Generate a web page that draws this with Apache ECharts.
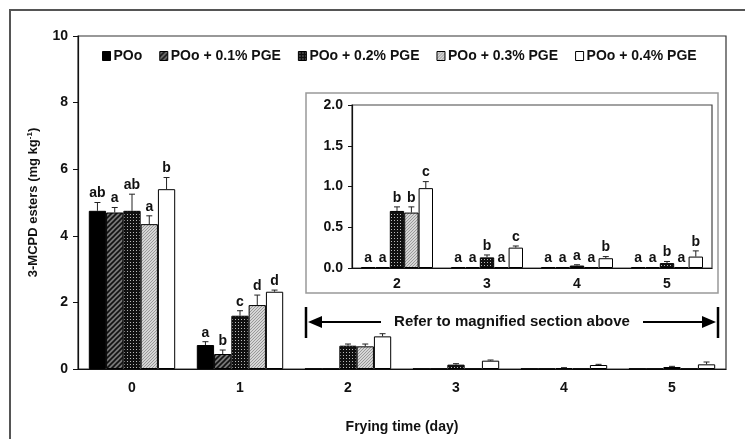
<!DOCTYPE html>
<html><head><meta charset="utf-8">
<script src="https://cdn.jsdelivr.net/npm/echarts@6/dist/echarts.min.js"></script>
<style>html,body{margin:0;padding:0;background:#fff}#c{width:745px;height:439px}</style>
</head><body><div id="c"></div>
<script>
const days = ['0','1','2','3','4','5'];
const seriesNames = ['POo','POo + 0.1% PGE','POo + 0.2% PGE','POo + 0.3% PGE','POo + 0.4% PGE'];
const vPOo  = [4.75, 0.72, 0.01, 0.01, 0.01, 0.01];
const vP01  = [4.70, 0.45, 0.01, 0.01, 0.01, 0.01];
const vP02  = [4.75, 1.60, 0.70, 0.13, 0.03, 0.06];
const vP03  = [4.35, 1.92, 0.68, 0.01, 0.01, 0.01];
const vP04  = [5.40, 2.32, 0.98, 0.25, 0.12, 0.14];
const ePOo  = [0.25, 0.10, 0, 0, 0, 0];
const eP01  = [0.15, 0.12, 0, 0, 0, 0];
const eP02  = [0.50, 0.15, 0.05, 0.03, 0.01, 0.02];
const eP03  = [0.25, 0.30, 0.07, 0, 0, 0];
const eP04  = [0.35, 0.05, 0.08, 0.02, 0.02, 0.07];
const lPOo  = ['ab','a','a','a','a','a'];
const lP01  = ['a','b','a','a','a','a'];
const lP02  = ['ab','c','b','b','a','b'];
const lP03  = ['a','d','b','a','a','a'];
const lP04  = ['b','d','c','c','b','b'];
const yTicksMain = [0,2,4,6,8,10];
const yTicksInset = [0,0.5,1.0,1.5,2.0];
const insetFrom = 2;

const values = [vPOo,vP01,vP02,vP03,vP04];
const errs = [ePOo,eP01,eP02,eP03,eP04];
const letters = [lPOo,lP01,lP02,lP03,lP04];

function pat(w,h,draw){const c=document.createElement('canvas');c.width=w;c.height=h;const g=c.getContext('2d');draw(g);return {image:c,repeat:'repeat'};}
const fills = [
  '#000',
  pat(5,5,g=>{g.fillStyle='#777';g.fillRect(0,0,5,5);g.strokeStyle='#111';g.lineWidth=1.6;g.beginPath();g.moveTo(-1,6);g.lineTo(6,-1);g.moveTo(-1,1);g.lineTo(1,-1);g.moveTo(4,6);g.lineTo(6,4);g.stroke();}),
  pat(3,3,g=>{g.fillStyle='#111';g.fillRect(0,0,3,3);g.fillStyle='#bbb';g.fillRect(1,1,1,1);}),
  pat(3,3,g=>{g.fillStyle='#d6d6d6';g.fillRect(0,0,3,3);g.fillStyle='#999';g.fillRect(0,0,1,1);g.fillRect(2,1,1,1);g.fillRect(1,2,1,1);}),
  '#fff'
];

const FONT = '"Liberation Sans", Arial, sans-serif';
const GAP = 0.2;

function errSeries(k, xIdx, yIdx, offset, showLetter){
  const vals = values[k].slice(offset), es = errs[k].slice(offset), ls = letters[k].slice(offset);
  return {
    type:'custom', xAxisIndex:xIdx, yAxisIndex:yIdx, z:10, silent:true,
    data: vals.map((v,i)=>[i, v, es[i]]),
    renderItem(params, api){
      const ci = api.value(0), v = api.value(1), e = api.value(2);
      const band = api.size([1,0])[0];
      const barW = band*(1-GAP)/5;
      const xc = api.coord([ci,0])[0] - band*(1-GAP)/2 + (k+0.5)*barW;
      const yT = api.coord([ci,v])[1], yE = api.coord([ci,v+e])[1];
      const ch = [];
      if (e > 0) {
        ch.push({type:'line',shape:{x1:xc,y1:yT,x2:xc,y2:yE},style:{stroke:'#222',lineWidth:1}});
        ch.push({type:'line',shape:{x1:xc-3,y1:yE,x2:xc+3,y2:yE},style:{stroke:'#222',lineWidth:1}});
      }
      if (showLetter(ci)) {
        ch.push({type:'text',style:{text:ls[params.dataIndex],x:xc,y:yE-2,textAlign:'center',textVerticalAlign:'bottom',font:'bold 14px '+FONT,fill:'#111'}});
      }
      return {type:'group',children:ch};
    }
  };
}

const series = [];
for (let k=0;k<5;k++){
  series.push({name:seriesNames[k],type:'bar',xAxisIndex:0,yAxisIndex:0,barGap:'0%',barCategoryGap:(GAP*100)+'%',
    data:values[k],itemStyle:{color:fills[k],borderColor:'#000',borderWidth:1}});
}
for (let k=0;k<5;k++){
  series.push({name:seriesNames[k]+' inset',type:'bar',xAxisIndex:1,yAxisIndex:1,barGap:'0%',barCategoryGap:(GAP*100)+'%',
    data:values[k].slice(insetFrom),itemStyle:{color:fills[k],borderColor:'#000',borderWidth:1}});
}
for (let k=0;k<5;k++) series.push(errSeries(k,0,0,0,ci=>ci<insetFrom));
for (let k=0;k<5;k++) series.push(errSeries(k,1,1,insetFrom,ci=>true));

const axisLbl = {color:'#111',fontWeight:'bold',fontSize:14,fontFamily:FONT};
const chart = echarts.init(document.getElementById('c'),null,{renderer:'canvas'});
chart.setOption({
  animation:false,
  backgroundColor:'#fff',
  textStyle:{fontFamily:FONT},
  legend:{data:seriesNames,left:97,top:44,icon:'rect',itemWidth:8,itemHeight:9,itemGap:17,
    textStyle:{color:'#111',fontWeight:'bold',fontSize:14,fontFamily:FONT,padding:[0,0,0,-2]},
    itemStyle:{borderColor:'#000',borderWidth:1}},
  grid:[
    {left:78,right:19,top:36,bottom:66,show:true,borderColor:'#333',borderWidth:1.2,backgroundColor:'transparent'},
    {left:352,right:33,top:105,bottom:171,show:true,borderColor:'#444',borderWidth:1.2,backgroundColor:'transparent'}
  ],
  xAxis:[
    {type:'category',gridIndex:0,data:days,name:'Frying time (day)',nameLocation:'middle',nameGap:51,
      nameTextStyle:{color:'#111',fontWeight:'bold',fontSize:14,fontFamily:FONT},
      axisLine:{lineStyle:{color:'#111',width:1.2}},axisTick:{alignWithLabel:true,length:4,lineStyle:{color:'#111'}},
      axisLabel:Object.assign({margin:12},axisLbl)},
    {type:'category',gridIndex:1,data:days.slice(insetFrom),
      axisLine:{lineStyle:{color:'#111',width:1.2}},axisTick:{alignWithLabel:true,length:3,lineStyle:{color:'#111'}},
      axisLabel:Object.assign({margin:9},axisLbl)}
  ],
  yAxis:[
    {type:'value',gridIndex:0,min:yTicksMain[0],max:yTicksMain[yTicksMain.length-1],interval:2,
      name:'3-MCPD esters (mg kg{sup|-1})',nameLocation:'middle',nameGap:38,nameRotate:90,
      nameTextStyle:{color:'#111',fontWeight:'bold',fontSize:13,fontFamily:FONT,rich:{sup:{fontSize:8,verticalAlign:'top',fontWeight:'bold',color:'#111',padding:[0,0,6,0]}}},
      axisLine:{show:true,lineStyle:{color:'#111',width:1.2}},axisTick:{show:true,length:5,lineStyle:{color:'#111'}},
      splitLine:{show:false},axisLabel:Object.assign({margin:10},axisLbl)},
    {type:'value',gridIndex:1,min:yTicksInset[0],max:yTicksInset[yTicksInset.length-1],interval:0.5,
      axisLine:{show:true,lineStyle:{color:'#111',width:1.2}},axisTick:{show:true,length:4,lineStyle:{color:'#111'}},
      splitLine:{show:false},axisLabel:Object.assign({margin:9,formatter:v=>v.toFixed(1)},axisLbl)}
  ],
  graphic:[
    {type:'rect',z:-10,silent:true,shape:{x:10,y:10,width:800,height:500},style:{fill:'none',stroke:'#555',lineWidth:2}},
    {type:'rect',z:-10,silent:true,shape:{x:306,y:93,width:412,height:200},style:{fill:'none',stroke:'#999',lineWidth:1.5}},
    {type:'line',z:5,shape:{x1:306,y1:307,x2:306,y2:338},style:{stroke:'#000',lineWidth:2.5}},
    {type:'line',z:5,shape:{x1:718,y1:307,x2:718,y2:338},style:{stroke:'#000',lineWidth:2.5}},
    {type:'line',z:5,shape:{x1:312,y1:322,x2:381,y2:322},style:{stroke:'#000',lineWidth:2}},
    {type:'polygon',z:5,shape:{points:[[308,322],[322,316],[322,328]]},style:{fill:'#000'}},
    {type:'line',z:5,shape:{x1:643,y1:322,x2:712,y2:322},style:{stroke:'#000',lineWidth:2}},
    {type:'polygon',z:5,shape:{points:[[716,322],[702,316],[702,328]]},style:{fill:'#000'}},
    {type:'text',z:5,style:{text:'Refer to magnified section above',x:512,y:322,textAlign:'center',textVerticalAlign:'middle',font:'bold 15px '+FONT,fill:'#111'}}
  ],
  series
});
</script></body></html>
